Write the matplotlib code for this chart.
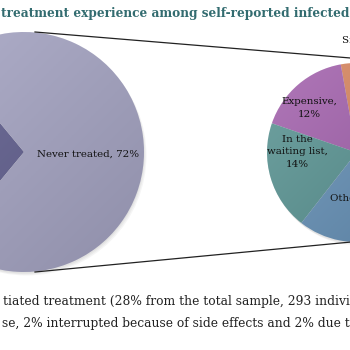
import matplotlib.pyplot as plt
import matplotlib.patches as mpatches
import numpy as np

# big pie: never treated vs treated (split out)
big_labels = ["Initiated treatment", "Never treated, 72%"]
big_values = [28, 72]

# second pie: reasons among the treated part
small_labels = ["Side effects, 2%", "Expensive,\n12%", "In the\nwaiting list,\n14%", "Other, 43%"]
small_values = [2, 12, 14, 43]

title = "treatment experience among self-reported infected individuals"
caption = ["tiated treatment (28% from the total sample, 293 individuals)",
           "se, 2% interrupted because of side effects and 2% due to"]

big_colors = ["#605e8e", "#a5a4c3"]
small_colors = ["#d8865f", "#a463ae", "#5b9594", "#6792b8"]

fig = plt.figure(figsize=(3.5, 3.5), dpi=100)
ax = fig.add_axes([0, 0, 1, 1])
serif = ["DejaVu Serif"]

big_c, big_r = (24, 198), 120
small_c, small_r = (356.5, 197.5), 89.5


def shadow(c, r):
    for i in range(3):
        ax.add_patch(mpatches.Circle((c[0] + 0.5 + i, c[1] - 1.5 - i), r, color="black",
                                     alpha=0.04, lw=0, zorder=1))


def shade(c, r):
    # light at top-left, darker bottom-right
    g = np.linspace(0, 1, 100)
    grad = (g[None, :] + g[:, None]) / 2
    im = ax.imshow(grad, cmap="gray_r", extent=(c[0] - r, c[0] + r, c[1] - r, c[1] + r),
                   origin="upper", alpha=0.13, zorder=3)
    im.set_clip_path(mpatches.Circle(c, r, transform=ax.transData))


shadow(big_c, big_r)
shadow(small_c, small_r)

w1, _ = ax.pie(big_values, colors=big_colors, startangle=129.6, center=big_c,
               radius=big_r, frame=True, wedgeprops=dict(linewidth=0))
w2, _ = ax.pie(small_values, colors=small_colors, startangle=90, center=small_c,
               radius=small_r, frame=True, wedgeprops=dict(linewidth=0))
for w in list(w1) + list(w2):
    w.set_zorder(2)
shade(big_c, big_r)
shade(small_c, small_r)

# connector lines
ax.plot([35, 356.5], [318, 291.5], color="#222222", lw=0.9, zorder=4)
ax.plot([35, 356.5], [78, 108.5], color="#222222", lw=0.9, zorder=4)

lab = dict(fontsize=7.4, family=serif, color="#111111", zorder=5)
ax.text(88, 196, big_labels[1], ha="center", va="center", **lab)
ax.text(309, 242, small_labels[1], ha="center", va="center", linespacing=1.45, **lab)
ax.text(297, 198, small_labels[2], ha="center", va="center", linespacing=1.45, **lab)
ax.text(330, 152, small_labels[3], ha="left", va="center", **lab)
ax.text(342, 310, small_labels[0], ha="left", va="center", **lab)

ax.text(1, 337, title, fontsize=8.7, family=serif, weight="bold", color="#336c70",
        ha="left", va="center")
ax.text(3, 48, caption[0], fontsize=8.8, family=serif, color="#222222", ha="left", va="center")
ax.text(2, 27, caption[1], fontsize=8.8, family=serif, color="#222222", ha="left", va="center")

ax.set_xlim(0, 350)
ax.set_ylim(0, 350)
ax.set_aspect("auto")
ax.axis("off")

plt.savefig("out.png", dpi=100)
